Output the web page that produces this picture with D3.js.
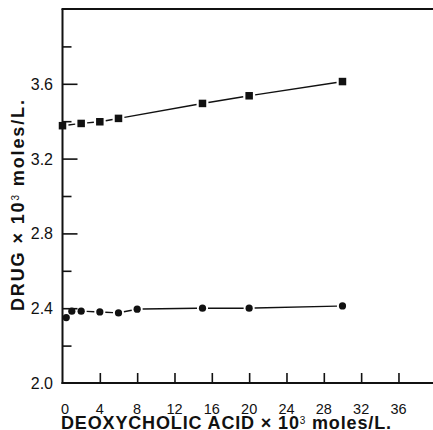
<!DOCTYPE html>
<html>
<head>
<meta charset="utf-8">
<script src="https://cdn.jsdelivr.net/npm/d3@7"></script>
<style>
  html, body { margin: 0; padding: 0; background: #fff; }
  svg { display: block; }
  text { font-family: "Liberation Sans", Arial, Helvetica, sans-serif; fill: #111; }
</style>
</head>
<body>
<svg id="chart" width="433" height="430"></svg>
<script>
// Deoxycholic acid concentration (x 10^3 moles/L.)
const upperX = [0, 2, 4, 6, 15, 20, 30];
const upperY = [3.376, 3.388, 3.397, 3.415, 3.495, 3.536, 3.612];

const lowerX = [0.4, 1, 2, 4, 6, 8, 15, 20, 30];
const lowerY = [2.350, 2.384, 2.384, 2.380, 2.375, 2.395, 2.400, 2.400, 2.412];

const xTickValues = [0, 4, 8, 12, 16, 20, 24, 28, 32, 36];
const yTickValues = [2.0, 2.2, 2.4, 2.6, 2.8, 3.0, 3.2, 3.4, 3.6, 3.8];
const yLabelValues = [2.0, 2.4, 2.8, 3.2, 3.6];

const svg = d3.select("#chart");

const x = d3.scaleLinear().domain([0, 40]).range([62.5, 435.8]);
const y = d3.scaleLinear().domain([2.0, 4.0]).range([383, 9]);

const ink = "#111";

// Frame: left axis, bottom axis, top rule
const frame = svg.append("g").attr("stroke", ink).attr("stroke-width", 2).attr("fill", "none");
frame.append("line").attr("x1", x(0)).attr("x2", x(0)).attr("y1", y(4.0)).attr("y2", y(2.0) + 1);
frame.append("line").attr("x1", x(0) - 1).attr("x2", 433).attr("y1", y(2.0)).attr("y2", y(2.0));
frame.append("line").attr("x1", x(0) - 1).attr("x2", 433).attr("y1", y(4.0)).attr("y2", y(4.0));

// Y axis: inward ticks, labels every 0.4
const yAxis = d3.axisRight(y)
  .tickValues(yTickValues)
  .tickSize(0)
  .tickFormat("");
const gy = svg.append("g").attr("transform", `translate(${x(0)},0)`).call(yAxis);
gy.select(".domain").remove();
gy.selectAll(".tick line")
  .attr("stroke", ink)
  .attr("stroke-width", 1.6)
  .attr("x2", d => yLabelValues.some(v => Math.abs(v - d) < 1e-9) ? 15 : 9);
gy.selectAll(".tick").filter(d => d === 2.0).select("line").remove();

svg.append("g").selectAll("text")
  .data(yLabelValues)
  .join("text")
  .attr("x", 53)
  .attr("y", d => y(d) + 6)
  .attr("text-anchor", "end")
  .attr("font-size", 16)
  .text(d3.format(".1f"));

// X axis: inward ticks with labels beneath
const xAxis = d3.axisTop(x)
  .tickValues(xTickValues.filter(d => d > 0))
  .tickSize(10)
  .tickFormat("");
const gx = svg.append("g").attr("transform", `translate(0,${y(2.0)})`).call(xAxis);
gx.select(".domain").remove();
gx.selectAll(".tick line").attr("stroke", ink).attr("stroke-width", 1.6);

svg.append("g").selectAll("text")
  .data(xTickValues)
  .join("text")
  .attr("x", d => x(d) + (d === 0 ? 2.5 : 0))
  .attr("y", 414)
  .attr("text-anchor", "middle")
  .attr("font-size", 14.5)
  .text(d => d);

// Axis titles
const xTitle = svg.append("text")
  .attr("x", 61)
  .attr("y", 429)
  .attr("font-size", 18)
  .attr("font-weight", "bold")
  .attr("textLength", 330)
  .attr("lengthAdjust", "spacing");
xTitle.append("tspan").text("DEOXYCHOLIC ACID \u00D7 10");
xTitle.append("tspan").attr("font-size", 10).attr("font-weight", "normal").attr("dy", -5).text("3");
xTitle.append("tspan").attr("dy", 5).text(" moles/L.");

const yTitle = svg.append("text")
  .attr("transform", "translate(24,311) rotate(-90)")
  .attr("font-size", 18)
  .attr("font-weight", "bold")
  .attr("textLength", 211)
  .attr("lengthAdjust", "spacing");
yTitle.append("tspan").text("DRUG \u00D7 10");
yTitle.append("tspan").attr("font-size", 10).attr("font-weight", "normal").attr("dy", -5).text("3");
yTitle.append("tspan").attr("dy", 5).text(" moles/L.");

// Connecting lines drawn as short segments that stop just shy of each marker
function drawSeries(xs, ys, gap) {
  const pts = xs.map((v, i) => [x(v), y(ys[i])]);
  const segs = d3.pairs(pts).map(([a, b]) => {
    const dx = b[0] - a[0], dy = b[1] - a[1];
    const len = Math.hypot(dx, dy);
    const ux = dx / len, uy = dy / len;
    return [[a[0] + ux * gap, a[1] + uy * gap], [b[0] - ux * gap, b[1] - uy * gap], len];
  }).filter(s => s[2] > gap * 2 + 1);
  svg.append("g").selectAll("line")
    .data(segs)
    .join("line")
    .attr("x1", d => d[0][0]).attr("y1", d => d[0][1])
    .attr("x2", d => d[1][0]).attr("y2", d => d[1][1])
    .attr("stroke", ink)
    .attr("stroke-width", 1.4);
}

drawSeries(upperX, upperY, 6);
drawSeries(lowerX, lowerY, 5.5);

// Upper series: filled squares
const sq = 7.5;
svg.append("g").selectAll("rect")
  .data(upperX.map((v, i) => [v, upperY[i]]))
  .join("rect")
  .attr("x", d => x(d[0]) - sq / 2)
  .attr("y", d => y(d[1]) - sq / 2)
  .attr("width", sq)
  .attr("height", sq)
  .attr("fill", ink);

// Lower series: filled circles
svg.append("g").selectAll("circle")
  .data(lowerX.map((v, i) => [v, lowerY[i]]))
  .join("circle")
  .attr("cx", d => x(d[0]))
  .attr("cy", d => y(d[1]))
  .attr("r", 3.6)
  .attr("fill", ink);
</script>
</body>
</html>
